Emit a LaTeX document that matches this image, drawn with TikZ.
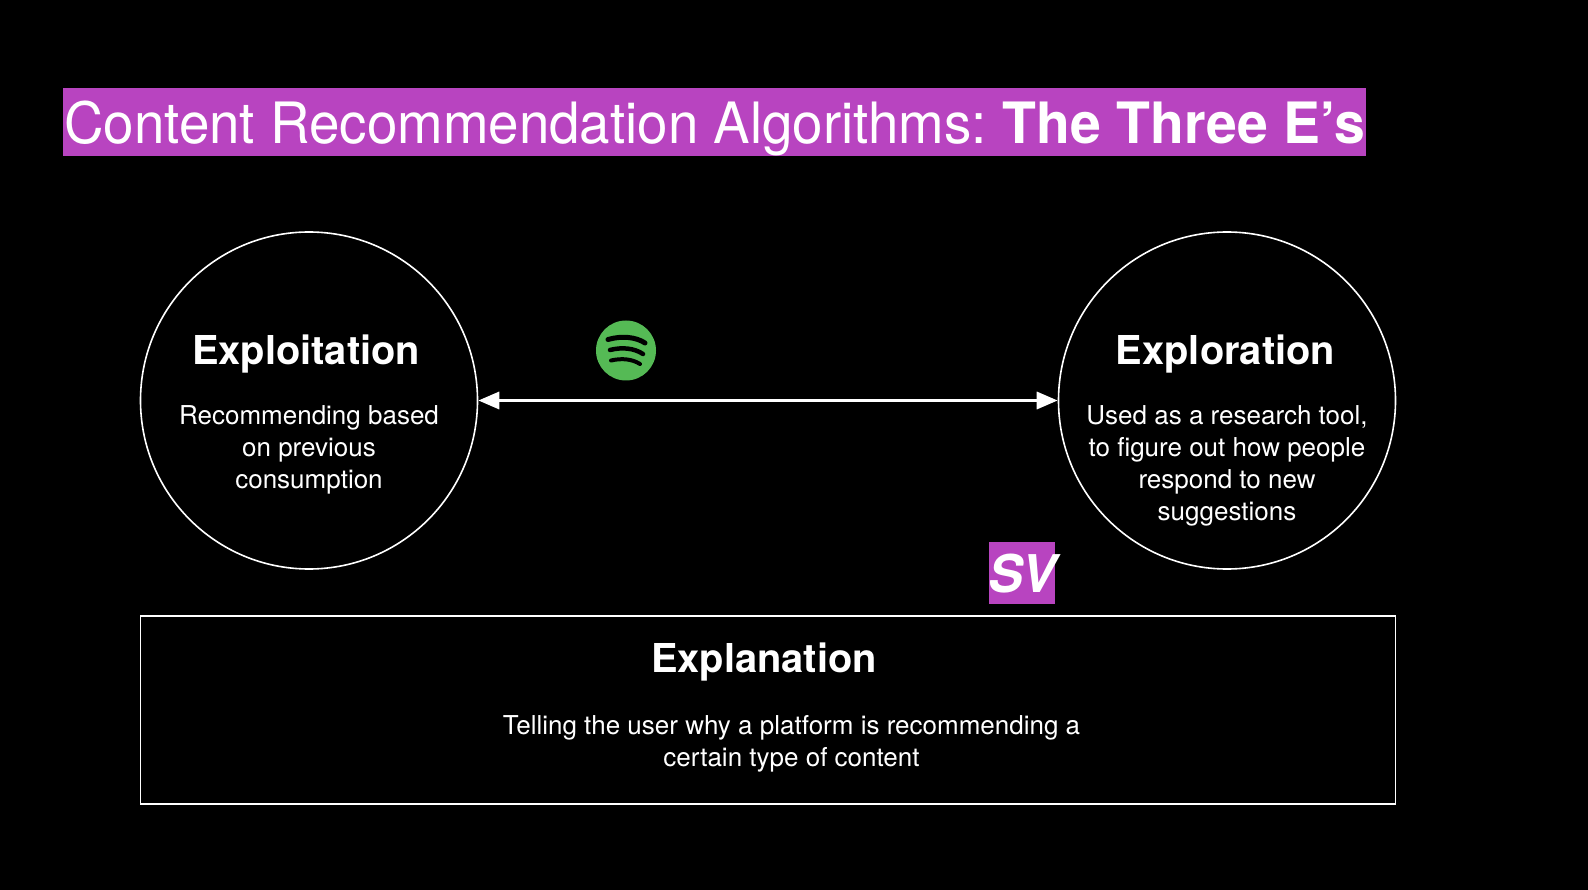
\documentclass[tikz,border=0pt]{standalone}
\usepackage{fontspec}
\setmainfont{TeX Gyre Heros}
\newfontfamily\boldface[BoldFont={* Bold}]{TeX Gyre Heros}
\usetikzlibrary{arrows.meta}
\definecolor{purp}{HTML}{B844C0}
\definecolor{spot}{HTML}{55BA55}
\tikzset{
  outline/.style={draw=white,line width=1.6pt},
  heading/.style={text=white,font=\fontsize{39.8}{46}\selectfont\boldface\bfseries,inner sep=0pt},
  bodytext/.style={text=white,font=\fontsize{26}{32}\selectfont,align=center,inner sep=0pt},
  arcline/.style={draw=black,line cap=round}
}
\begin{document}
\begin{tikzpicture}[x=1pt,y=-1pt]
\useasboundingbox (0,0) rectangle (1588,890);
\fill[black] (0,0) rectangle (1588,890);
\fill[purp] (63,88) rectangle (1366,156);
\node[text=white,anchor=base west,inner sep=0pt,font=\fontsize{57}{60}\selectfont] (title) at (64,144) {\scalebox{.96}[1]{Content Recommendation Algorithms:}};
\node[text=white,anchor=base east,inner sep=0pt,font=\fontsize{57}{60}\selectfont\boldface\bfseries] (titleb) at (1365.5,144) {\scalebox{.972}[1]{The Three E’s}};
\node[circle,outline,minimum size=337pt,inner sep=0pt] (exploit) at (309,400.5) {};
\node[circle,outline,minimum size=337pt,inner sep=0pt] (explore) at (1227,400.5) {};
\draw[white,line width=3.4pt,{Triangle[length=21pt,width=17pt]}-{Triangle[length=21pt,width=17pt]}] (exploit) -- (explore);
\node[heading] (h1) at (306,354) {Exploitation};
\node[bodytext] (b1) at (309,450) {Recommending based\\on previous\\consumption};
\node[heading] (h2) at (1225.5,354) {Exploration};
\node[bodytext] (b2) at (1227,466) {Used as a research tool,\\to figure out how people\\respond to new\\suggestions};
\node[draw=white,line width=1.6pt,minimum width=1255pt,minimum height=188pt,inner sep=0pt] (box) at (768,710) {};
\node[heading] (h3) at (764,662) {Explanation};
\node[bodytext] (b3) at (791.5,744) {Telling the user why a platform is recommending a\\certain type of content};
\fill[purp] (989,542) rectangle (1055,604);
\node[text=white,inner sep=0pt,font=\fontsize{52}{56}\selectfont\boldface\bfseries\itshape] (sv) at (1022,574) {SV};
\node[circle,fill=spot,minimum size=60pt,inner sep=0pt] (logo) at (626,350.5) {};
\draw[arcline,line width=5pt] (608,339.5) .. controls (622,335.5) and (636,337) .. (645,343);
\draw[arcline,line width=4.5pt] (610,350) .. controls (622,347) and (634,348) .. (643,354);
\draw[arcline,line width=4pt] (611,360.5) .. controls (622,358) and (632,359) .. (640,364);
\end{tikzpicture}
\end{document}
